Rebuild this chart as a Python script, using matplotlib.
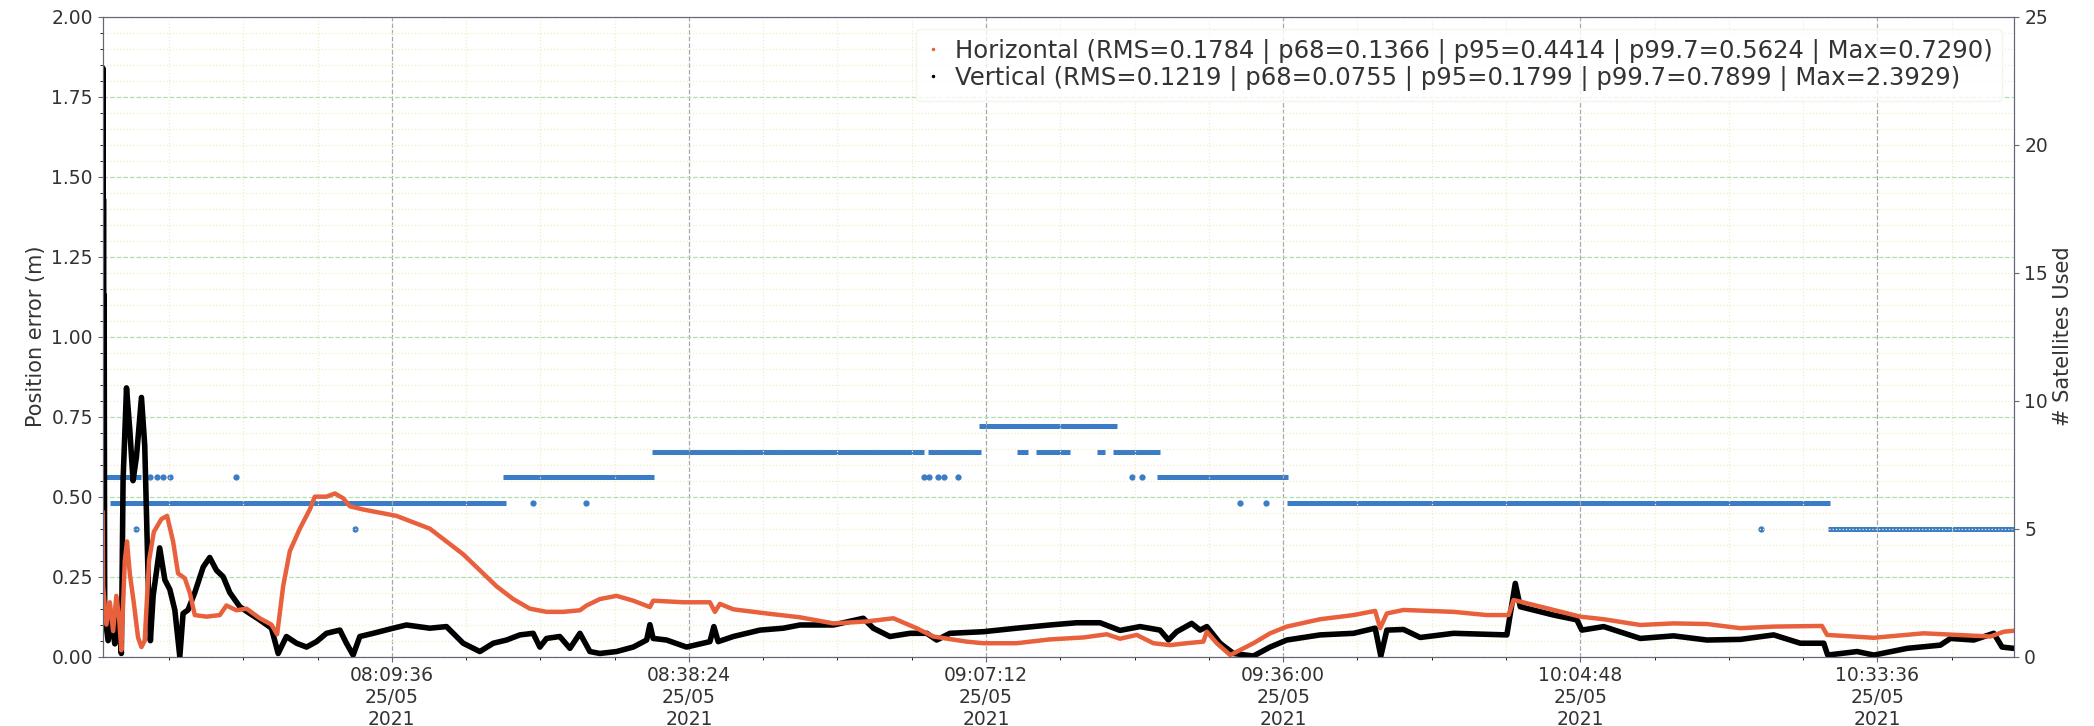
import numpy as np
import matplotlib
matplotlib.use("Agg")
import matplotlib.pyplot as plt
import matplotlib.dates as mdates
from matplotlib.ticker import MultipleLocator, FuncFormatter
from matplotlib.lines import Line2D

# time axis: seconds of day, 25/05/2021
day0 = mdates.date2num(np.datetime64("2021-05-25T00:00:00"))
t_first, t_last = 27694, 38813

# horizontal error (m)
hor_t = [27694, 27697, 27716, 27736, 27755, 27774, 27790, 27803, 27823, 27836,
         27852, 27875, 27900, 27920, 27939, 27964, 27992, 28036, 28069, 28104,
         28133, 28172, 28201, 28230, 28298, 28376, 28414, 28472, 28531, 28608,
         28676, 28709, 28744, 28783, 28841, 28899, 28928, 28996, 29045, 29093,
         29132, 29209, 29306, 29403, 29500, 29597, 29694, 29791, 29888, 29985,
         30082, 30179, 30276, 30373, 30470, 30509, 30586, 30683, 30780, 30877,
         30896, 31071, 31226, 31255, 31284, 31362, 31556, 31750, 31944, 32137,
         32293, 32428, 32525, 32719, 32816, 33010, 33204, 33398, 33534, 33611,
         33708, 33805, 33902, 33999, 34096, 34116, 34174, 34252, 34387, 34484,
         34581, 34775, 34969, 35095, 35124, 35163, 35260, 35551, 35745, 35871,
         35900, 35939, 36133, 36288, 36424, 36637, 36831, 37025, 37219, 37413,
         37694, 37723, 37995, 38285, 38479, 38673, 38751, 38809]
hor_err = [0.45, 0.22, 0.10, 0.17, 0.08, 0.19, 0.12, 0.02, 0.30, 0.36,
           0.26, 0.17, 0.06, 0.03, 0.05, 0.30, 0.39, 0.43, 0.44, 0.36,
           0.26, 0.245, 0.20, 0.13, 0.125, 0.13, 0.16, 0.145, 0.15, 0.12,
           0.10, 0.07, 0.22, 0.33, 0.40, 0.46, 0.50, 0.50, 0.51, 0.495,
           0.47, 0.46, 0.45, 0.44, 0.42, 0.40, 0.36, 0.32, 0.27, 0.22,
           0.18, 0.15, 0.14, 0.14, 0.145, 0.16, 0.18, 0.19, 0.175, 0.155,
           0.175, 0.17, 0.17, 0.14, 0.165, 0.148, 0.135, 0.123, 0.104, 0.11,
           0.12, 0.089, 0.063, 0.047, 0.042, 0.042, 0.054, 0.06, 0.07, 0.056,
           0.068, 0.042, 0.036, 0.042, 0.047, 0.078, 0.042, 0.005, 0.042, 0.073,
           0.094, 0.117, 0.13, 0.143, 0.089, 0.135, 0.146, 0.14, 0.13, 0.13,
           0.177, 0.172, 0.146, 0.125, 0.117, 0.099, 0.104, 0.102, 0.089, 0.094,
           0.096, 0.068, 0.059, 0.073, 0.068, 0.063, 0.078, 0.081]

# vertical error (m)
ver_t = [27694, 27695, 27697, 27699, 27701, 27703, 27706, 27726, 27745, 27765,
         27784, 27803, 27813, 27833, 27852, 27871, 27891, 27920, 27939, 27959,
         27972, 27988, 28026, 28056, 28085, 28114, 28143, 28162, 28191, 28230,
         28279, 28317, 28356, 28395, 28434, 28492, 28550, 28608, 28676, 28715,
         28763, 28822, 28880, 28938, 28996, 29074, 29112, 29151, 29190, 29268,
         29384, 29461, 29597, 29694, 29791, 29888, 29966, 30043, 30121, 30198,
         30237, 30276, 30353, 30412, 30470, 30528, 30586, 30683, 30780, 30858,
         30877, 30896, 30974, 31090, 31226, 31249, 31274, 31362, 31517, 31653,
         31750, 31944, 32118, 32176, 32273, 32390, 32487, 32545, 32622, 32816,
         33010, 33204, 33359, 33495, 33611, 33728, 33844, 33893, 33941, 34028,
         34077, 34116, 34193, 34271, 34387, 34484, 34581, 34775, 34969, 35095,
         35128, 35163, 35260, 35357, 35551, 35861, 35910, 35939, 36133, 36268,
         36297, 36424, 36637, 36831, 37025, 37219, 37413, 37568, 37704, 37727,
         37898, 37995, 38189, 38382, 38441, 38576, 38693, 38741, 38809]
ver_err = [0.30, 1.84, 0.45, 1.43, 0.35, 1.13, 0.135, 0.05, 0.115, 0.04,
           0.135, 0.01, 0.55, 0.84, 0.71, 0.55, 0.625, 0.81, 0.66, 0.24,
           0.05, 0.19, 0.34, 0.24, 0.21, 0.146, 0.0, 0.135, 0.146, 0.20,
           0.28, 0.31, 0.27, 0.25, 0.20, 0.156, 0.135, 0.115, 0.089, 0.01,
           0.063, 0.042, 0.03, 0.047, 0.073, 0.083, 0.042, 0.005, 0.063, 0.073,
           0.089, 0.099, 0.089, 0.094, 0.042, 0.016, 0.042, 0.052, 0.068, 0.073,
           0.03, 0.057, 0.063, 0.026, 0.073, 0.016, 0.010, 0.016, 0.03, 0.052,
           0.10, 0.057, 0.052, 0.03, 0.047, 0.094, 0.047, 0.063, 0.083, 0.089,
           0.099, 0.099, 0.12, 0.089, 0.063, 0.073, 0.073, 0.052, 0.073, 0.078,
           0.089, 0.099, 0.106, 0.106, 0.082, 0.094, 0.083, 0.052, 0.078, 0.104,
           0.083, 0.094, 0.042, 0.01, 0.002, 0.03, 0.052, 0.068, 0.073, 0.089,
           0.002, 0.083, 0.085, 0.06, 0.073, 0.068, 0.229, 0.156, 0.13, 0.115,
           0.083, 0.094, 0.057, 0.065, 0.052, 0.054, 0.068, 0.042, 0.042, 0.005,
           0.016, 0.005, 0.026, 0.036, 0.057, 0.052, 0.073, 0.03, 0.026]

# satellites used: constant runs and isolated epochs
sat_start = [27693, 27739, 30024, 30887, 32496, 32791, 33010, 33123, 33476, 33571, 33825, 34581, 37727]
sat_end = [27920, 30039, 30902, 32471, 32801, 33592, 33074, 33321, 33524, 33844, 34591, 37742, 38813]
sat_count = [7, 6, 7, 8, 8, 9, 8, 8, 8, 8, 7, 6, 5]
sat_dot_t = [27968, 28009, 28044, 28084, 28472, 27891, 29161, 30195, 30505, 32470,
             32500, 32555, 32590, 32671, 33682, 33740, 34310, 34459, 37339]
sat_dot_n = [7, 7, 7, 7, 7, 5, 5, 6, 6, 7, 7, 7, 7, 7, 7, 7, 6, 6, 5]

hor_label = "Horizontal (RMS=0.1784 | p68=0.1366 | p95=0.4414 | p99.7=0.5624 | Max=0.7290)"
ver_label = "Vertical (RMS=0.1219 | p68=0.0755 | p95=0.1799 | p99.7=0.7899 | Max=2.3929)"

c_hor = "#e8603c"
c_sat = "#3a7dc6"
spine_c = "#666677"


def to_num(sec):
    return day0 + np.asarray(sec, dtype=float) / 86400.0


def fmt_time(v, pos):
    d = mdates.num2date(round(v * 86400.0) / 86400.0)
    return d.strftime("%H:%M:%S\n%d/%m\n%Y")


fig, ax = plt.subplots(figsize=(20.94, 7.26), dpi=100)
fig.subplots_adjust(left=0.049, right=0.962, top=0.977, bottom=0.0955)
ax2 = ax.twinx()
ax.set_zorder(ax2.get_zorder() + 1)
ax.patch.set_visible(False)

# satellites on the right axis
ax2.hlines(sat_count, to_num(sat_start), to_num(sat_end), color=c_sat, lw=3.6)
ax2.plot(to_num(sat_dot_t), sat_dot_n, ls="none", marker="o", ms=3.5, color=c_sat)
ax2.set_ylim(0, 25)
ax2.yaxis.set_major_locator(MultipleLocator(5))
ax2.set_ylabel("# Satellites Used", fontsize=15, color="#333333")

ax.plot(to_num(ver_t), ver_err, color="black", lw=4.0)
ax.plot(to_num(hor_t), hor_err, color=c_hor, lw=3.2)

ax.set_xlim(to_num(t_first), to_num(t_last))
ax.set_ylim(0, 2.0)
ax.set_ylabel("Position error (m)", fontsize=15, color="#333333")

ax.xaxis.set_major_locator(MultipleLocator(0.02))
ax.xaxis.set_minor_locator(MultipleLocator(0.005))
ax.xaxis.set_major_formatter(FuncFormatter(fmt_time))
ax.yaxis.set_major_locator(MultipleLocator(0.25))
ax.yaxis.set_minor_locator(MultipleLocator(0.05))
ax.yaxis.set_major_formatter(FuncFormatter(lambda v, p: "%.2f" % v))

ax.xaxis.grid(True, which="major", color="#a8a8a8", ls="--", lw=0.9)
ax.yaxis.grid(True, which="major", color="#b2dcb2", ls="--", lw=0.9)
ax.grid(True, which="minor", color="#f4ecc8", ls=":", lw=0.9)

for a in (ax, ax2):
    a.tick_params(labelsize=13.5, labelcolor="#333333", color=spine_c)
    for s in a.spines.values():
        s.set_color(spine_c)

handles = [Line2D([], [], ls="none", marker=".", ms=3, color=c_hor),
           Line2D([], [], ls="none", marker=".", ms=3, color="black")]
leg = ax.legend(handles, [hor_label, ver_label], loc="upper right", fontsize=17.5,
                labelspacing=0.1, handlelength=0.6, handletextpad=0.6,
                framealpha=0.8, edgecolor="#f2f2e6")
for t in leg.get_texts():
    t.set_color("#333333")

fig.savefig("out.png", dpi=100)
plt.close(fig)
